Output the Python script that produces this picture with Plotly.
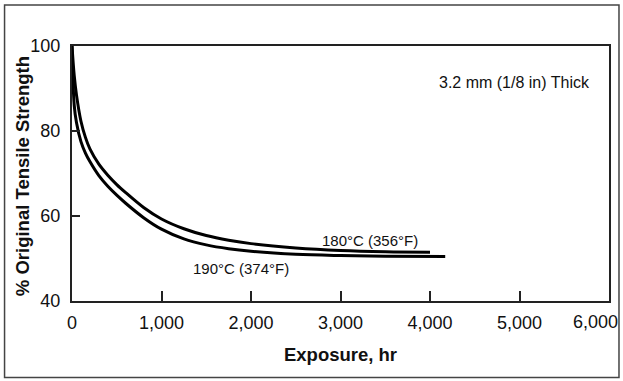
import plotly.graph_objects as go

# exposure (hr) and % original tensile strength
hr_180 = [0, 25, 50, 100, 150, 200, 300, 400, 500, 600, 800, 1000, 1250, 1500, 1750,
          2000, 2500, 3000, 3500, 4000]
ts_180 = [100, 93, 88.5, 82.3, 78.5, 75.8, 72.2, 69.6, 67.4, 65.5, 62.0, 59.3, 57.0,
          55.4, 54.3, 53.5, 52.5, 51.9, 51.6, 51.5]

hr_190 = [0, 25, 50, 100, 150, 200, 300, 400, 500, 600, 800, 1000, 1250, 1500, 1750,
          2000, 2500, 3000, 3500, 4170]
ts_190 = [100, 86, 82, 77.5, 74.8, 72.8, 69.5, 67, 64.9, 63.0, 59.6, 56.9, 54.6,
          53.2, 52.3, 51.7, 51.0, 50.7, 50.55, 50.5]

x_ticks = [0, 1000, 2000, 3000, 4000, 5000, 6000]
x_labels = ["0", "1,000", "2,000", "3,000", "4,000", "5,000", "6,000"]
y_ticks = [40, 60, 80, 100]

font = "Liberation Sans, Arial, sans-serif"

fig = go.Figure()
fig.add_trace(go.Scatter(x=hr_180, y=ts_180, mode="lines",
                         line=dict(color="black", width=3, shape="spline")))
fig.add_trace(go.Scatter(x=hr_190, y=ts_190, mode="lines",
                         line=dict(color="black", width=3, shape="spline")))

fig.add_annotation(x=3325, y=54.3, text="180°C (356°F)", showarrow=False,
                   font=dict(size=15, color="#111"))
fig.add_annotation(x=1893, y=47.6, text="190°C (374°F)", showarrow=False,
                   font=dict(size=15, color="#111"))
fig.add_annotation(x=5811, y=91.5, text="3.2 mm (1/8 in) Thick", showarrow=False,
                   xanchor="right", font=dict(size=16, color="#111"))

# last x label sits flush with the right edge in the original, not centred
fig.add_annotation(x=x_ticks[-1], y=40, text=x_labels[-1], showarrow=False,
                   xanchor="right", yanchor="middle", xshift=11, yshift=-21,
                   font=dict(size=18, color="#111"))

# y title as annotation so it sits where the original has it
fig.add_annotation(xref="paper", yref="paper", x=-0.092, y=0.488,
                   xanchor="center", yanchor="middle",
                   text="<b>% Original Tensile Strength</b>", textangle=-90,
                   showarrow=False, font=dict(size=18.5, color="#111"))

# outer frame around the whole picture
fig.add_shape(type="rect", xref="paper", yref="paper",
              x0=-0.1256, x1=1.0186, y0=-0.2996, y1=1.161,
              line=dict(color="#444", width=1.5), layer="below")

fig.update_xaxes(range=[0, 6000], tickvals=x_ticks, ticktext=x_labels[:-1] + [""],
                 showline=True, mirror=True, linecolor="#222", linewidth=2,
                 ticks="inside", ticklen=10, tickwidth=1.5, tickcolor="#222",
                 showgrid=False, zeroline=False,
                 tickfont=dict(size=18, color="#111"), ticklabelstandoff=4,
                 title=dict(text="<b>Exposure, hr</b>", font=dict(size=18.5, color="#111"),
                            standoff=16))
fig.update_yaxes(range=[40, 100], tickvals=y_ticks,
                 showline=True, mirror=True, linecolor="#222", linewidth=2,
                 ticks="inside", ticklen=8, tickwidth=1.5, tickcolor="#222",
                 showgrid=False, zeroline=False, ticklabeloverflow="allow",
                 tickfont=dict(size=18, color="#111"), ticklabelstandoff=6)

fig.update_layout(width=623, height=381, showlegend=False,
                  font=dict(family=font),
                  margin=dict(l=71.5, r=14, t=46, b=80, autoexpand=False),
                  plot_bgcolor="white", paper_bgcolor="white")

fig.write_html("out.html", config={"displayModeBar": False},
               post_script="document.body.style.margin='0';")
